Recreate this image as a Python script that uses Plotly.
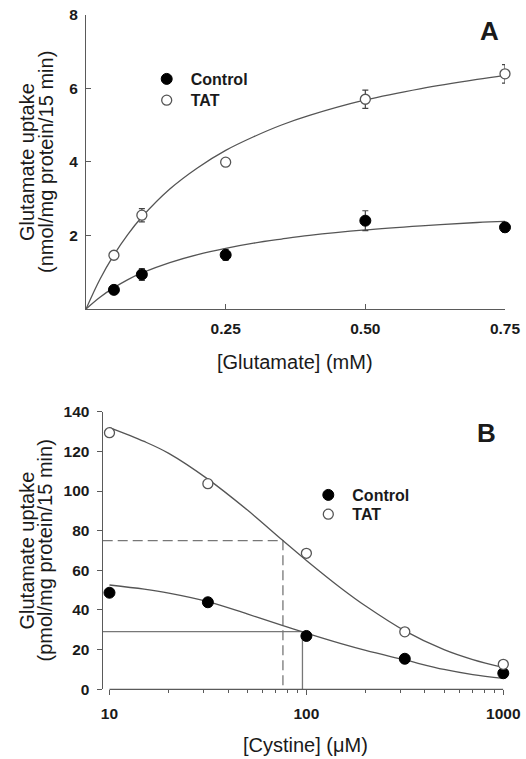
import plotly.graph_objects as go

# ---------------- Panel A : glutamate uptake vs [Glutamate] ----------------
glu_conc = [0.05, 0.1, 0.25, 0.5, 0.75]
ctrl_A = [0.52, 0.94, 1.47, 2.40, 2.22]
ctrl_A_err = [0.05, 0.16, 0.15, 0.27, 0.13]
tat_A = [1.46, 2.55, 3.99, 5.70, 6.39]
tat_A_err = [0.05, 0.18, 0.05, 0.25, 0.25]

# fitted curves
fit_x_A = [0, 0.025, 0.05, 0.075, 0.1, 0.15, 0.2, 0.25, 0.3, 0.35, 0.4, 0.5, 0.6, 0.7, 0.75]
fit_ctrl_A = [0, 0.32, 0.58, 0.80, 0.98, 1.26, 1.48, 1.65, 1.79, 1.90, 2.00, 2.15, 2.26, 2.35, 2.38]
fit_tat_A = [0, 0.81, 1.47, 2.03, 2.50, 3.26, 3.84, 4.31, 4.68, 5.00, 5.26, 5.68, 5.99, 6.24, 6.35]

xticks_A = [0.25, 0.5, 0.75]
xticktext_A = ["0.25", "0.50", "0.75"]
yticks_A = [2, 4, 6, 8]

# ---------------- Panel B : glutamate uptake vs [Cystine] ----------------
cys_conc = [10, 31.6, 100, 316, 1000]
ctrl_B = [48.7, 43.9, 26.9, 15.4, 8.1]
tat_B = [129.4, 103.7, 68.6, 29.0, 12.6]

fit_x_B = [10, 15, 20, 31.6, 50, 76, 100, 150, 200, 316, 500, 700, 1000]
fit_ctrl_B = [52.6, 50.5, 48.5, 44.2, 38.0, 32.1, 28.3, 23.0, 19.6, 14.8, 10.0, 7.4, 5.5]
fit_tat_B = [132.0, 125.0, 119.0, 106.0, 90.5, 75.0, 65.0, 51.0, 42.0, 29.5, 20.0, 15.0, 11.0]

# half-maximal (IC50) read-outs
ic50_tat, half_tat = 76, 75
ic50_ctrl, half_ctrl = 95.5, 29.1

xticks_B = [10, 100, 1000]
xticktext_B = ["10", "100", "1000"]
yticks_B = [0, 20, 40, 60, 80, 100, 120, 140]

# ---------------- styling ----------------
W, H = 526, 759
FONT = "Liberation Sans, Arial, Helvetica, sans-serif"
AX = "#5a5a5a"
LINE = "#555555"
TXT = "#1a1a1a"

xrange_B = [0.9655, 3.0]


def py(p):
    return 1 - p / H


fig = go.Figure()

# curves A
for ys in (fit_tat_A, fit_ctrl_A):
    fig.add_trace(go.Scatter(x=fit_x_A, y=ys, mode="lines", line=dict(color=LINE, width=1.3, shape="spline"),
                             showlegend=False, xaxis="x", yaxis="y", hoverinfo="skip"))
# points A
fig.add_trace(go.Scatter(x=glu_conc, y=ctrl_A, mode="markers", name="Control",
                         marker=dict(symbol="circle", size=11, color="black", line=dict(color="black", width=1)),
                         error_y=dict(type="data", array=ctrl_A_err, color="#444", thickness=1.2, width=3),
                         cliponaxis=False, xaxis="x", yaxis="y", legend="legend"))
fig.add_trace(go.Scatter(x=glu_conc, y=tat_A, mode="markers", name="TAT",
                         marker=dict(symbol="circle", size=10, color="white", line=dict(color=LINE, width=1.3)),
                         error_y=dict(type="data", array=tat_A_err, color="#444", thickness=1.2, width=3),
                         cliponaxis=False, xaxis="x", yaxis="y", legend="legend2"))

# reference lines B
x_left_B = 10 ** xrange_B[0]
fig.add_trace(go.Scatter(x=[x_left_B, ic50_tat, ic50_tat], y=[half_tat, half_tat, 0], mode="lines",
                         line=dict(color="#777", width=1.3, dash="10px,5px"), showlegend=False,
                         xaxis="x2", yaxis="y2", hoverinfo="skip"))
fig.add_trace(go.Scatter(x=[x_left_B, ic50_ctrl, ic50_ctrl], y=[half_ctrl, half_ctrl, 0], mode="lines",
                         line=dict(color="#777", width=1.3), showlegend=False,
                         xaxis="x2", yaxis="y2", hoverinfo="skip"))
# curves B
for ys in (fit_tat_B, fit_ctrl_B):
    fig.add_trace(go.Scatter(x=fit_x_B, y=ys, mode="lines", line=dict(color=LINE, width=1.3, shape="spline"),
                             showlegend=False, xaxis="x2", yaxis="y2", hoverinfo="skip"))
# points B
fig.add_trace(go.Scatter(x=cys_conc, y=ctrl_B, mode="markers", name="Control",
                         marker=dict(symbol="circle", size=11, color="black", line=dict(color="black", width=1)),
                         cliponaxis=False, xaxis="x2", yaxis="y2", legend="legend3"))
fig.add_trace(go.Scatter(x=cys_conc, y=tat_B, mode="markers", name="TAT",
                         marker=dict(symbol="circle", size=10, color="white", line=dict(color=LINE, width=1.3)),
                         cliponaxis=False, xaxis="x2", yaxis="y2", legend="legend4"))

tickfont = dict(family=FONT, size=15.5, color=TXT, weight="bold")
common = dict(showgrid=False, zeroline=False, linecolor=AX, linewidth=1.3, tickcolor=AX, tickwidth=1.3,
              tickfont=tickfont, ticklen=5, automargin=False)

legfont = dict(family=FONT, size=16, color=TXT, weight="bold")


def leg(xc, yc):
    # one legend per entry, marker centred near (xc, yc) in pixels
    return dict(x=(xc - 24) / W, y=py(yc - 17), xanchor="left", yanchor="top", bgcolor="rgba(0,0,0,0)",
                font=legfont, borderwidth=0, itemwidth=38)


fig.update_layout(
    width=W, height=H,
    margin=dict(l=0, r=0, t=0, b=0, pad=0, autoexpand=False),
    paper_bgcolor="white", plot_bgcolor="white",
    font=dict(family=FONT, color=TXT),
    xaxis=dict(domain=[86 / W, 505 / W], range=[0, 0.75], anchor="y", showline=True, ticks="inside",
               tickvals=xticks_A, ticktext=xticktext_A, ticklabelstandoff=5, **common),
    yaxis=dict(domain=[py(309), py(14.6)], range=[0, 8], anchor="x", showline=True, ticks="inside",
               tickvals=yticks_A, ticklabelstandoff=4, **common),
    xaxis2=dict(domain=[102.7 / W, 503.3 / W], type="log", range=xrange_B, anchor="y2", showline=False,
                ticks="outside", tickvals=xticks_B, ticktext=xticktext_B, ticklabelstandoff=5,
                minor=dict(ticks="outside", ticklen=3, dtick="D1", tickcolor=AX, tickwidth=1.2, showgrid=False),
                **common),
    yaxis2=dict(domain=[py(689.3), py(411.7)], range=[0, 140], anchor="x2", showline=True, ticks="outside",
                tickvals=yticks_B, ticklabelstandoff=4, **common),
    legend=leg(166.7, 79),
    legend2=leg(166.7, 100.3),
    legend3=leg(328.3, 495),
    legend4=leg(328.3, 514.3),
    shapes=[dict(type="line", xref="x2", yref="y2 domain", x0=10, x1=1000, y0=0, y1=0,
                 line=dict(color=AX, width=1.3), layer="above")],
)

annots = [
    dict(text="A", x=489 / W, y=py(30.7), font=dict(size=26, weight="bold")),
    dict(text="B", x=486.5 / W, y=py(432.7), font=dict(size=26, weight="bold")),
    dict(text="[Glutamate] (mM)", x=295 / W, y=py(361.7), font=dict(size=20)),
    dict(text="[Cystine] (\u03bcM)", x=305.7 / W, y=py(745), font=dict(size=20)),
    dict(text="Glutamate uptake", x=27 / W, y=py(162), textangle=-90, font=dict(size=20)),
    dict(text="(nmol/mg protein/15 min)", x=46 / W, y=py(162), textangle=-90, font=dict(size=20)),
    dict(text="Glutamate uptake", x=26 / W, y=py(550.5), textangle=-90, font=dict(size=20)),
    dict(text="(pmol/mg protein/15 min)", x=44 / W, y=py(550.5), textangle=-90, font=dict(size=20)),
]
for a in annots:
    f = dict(family=FONT, color=TXT)
    f.update(a.pop("font"))
    fig.add_annotation(xref="paper", yref="paper", xanchor="center", yanchor="middle", showarrow=False,
                       font=f, **a)

# remove the page's default body margin so the figure sits at the window origin
fig.write_html("out.html", config={"displayModeBar": False},
               post_script="document.body.style.margin='0';document.body.style.overflow='hidden';")
